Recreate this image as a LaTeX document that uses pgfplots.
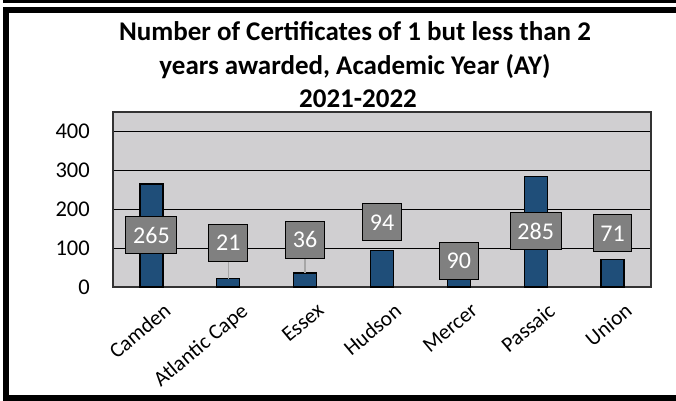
\documentclass[border=0pt]{standalone}
\usepackage{fontspec}
\setmainfont{Carlito}
\usepackage{pgfplots}
\pgfplotsset{compat=1.18}

\definecolor{barblue}{RGB}{31,78,121}
\definecolor{plotgray}{RGB}{208,207,209}
\definecolor{boxgray}{RGB}{128,128,128}
\definecolor{leadgray}{RGB}{166,166,166}

\begin{document}
\begin{tikzpicture}
\useasboundingbox (0,0) rectangle (676bp,401bp);
\fill[white] (0,0) rectangle (676bp,401bp);
% outer frame, open to the right as in the screenshot
\fill[black] (3bp,398bp) rectangle (680bp,402bp);
\draw[line width=6bp] (690bp,391bp) -- (5.5bp,391bp) -- (5.5bp,2.5bp) -- (690bp,2.5bp);

% title
\node[anchor=base, font=\fontsize{27bp}{33bp}\selectfont\bfseries] at (355bp,360bp) {Number of Certificates of 1 but less than 2};
\node[anchor=base, font=\fontsize{27bp}{33bp}\selectfont\bfseries] at (355bp,326.5bp) {years awarded, Academic Year (AY)};
\node[anchor=base, font=\fontsize{27bp}{33bp}\selectfont\bfseries] at (358bp,293bp) {2021-2022};

\begin{axis}[
    at={(113bp,114bp)}, anchor=south west,
    scale only axis, width=538bp, height=175bp,
    xmin=-0.5, xmax=6.5,
    ymin=0, ymax=450,
    xtick={0,...,6},
    xticklabels={Camden,Atlantic Cape,Essex,Hudson,Mercer,Passaic,Union},
    ytick={0,100,200,300,400},
    ymajorgrids=true,
    grid style={black, line width=1.2bp},
    axis line style={draw=black!80, line width=1.3bp},
    axis background/.style={fill=plotgray},
    major tick length=0pt,
    /pgf/number format/assume math mode=true,
    yticklabel style={font=\fontsize{22.5bp}{26bp}\selectfont, inner sep=0pt, xshift=-23bp},
    xticklabel style={font=\fontsize{21.5bp}{25bp}\selectfont, rotate=40, anchor=north east,
        inner sep=0pt, xshift=-1bp, yshift=-18.5bp},
    clip=false,
]
\addplot[ybar, bar width=23bp, fill=barblue, draw=black, line width=1.2bp]
    table {
    x y
    0 265
    1 21
    2 36
    3 94
    4 90
    5 285
    6 71
    };
% leader lines
\addplot[leadgray, line width=1.5bp] coordinates {(1,21) (1,64)};
\addplot[leadgray, line width=1.5bp] coordinates {(2,36) (2,74)};
% data labels
\addplot[draw=none, mark=none, nodes near coords, point meta=explicit symbolic,
    nodes near coords style={anchor=center, fill=boxgray, draw=black, line width=1bp,
        text=white, minimum height=37bp, inner xsep=7.2bp,
        font=\fontsize{24bp}{28bp}\selectfont}]
    table[meta=lab] {
    x y lab
    0 133 265
    1 114 21
    2 122 36
    3 166 94
    4 68 90
    5 143 285
    6 138 71
    };
\end{axis}
\end{tikzpicture}
\end{document}
